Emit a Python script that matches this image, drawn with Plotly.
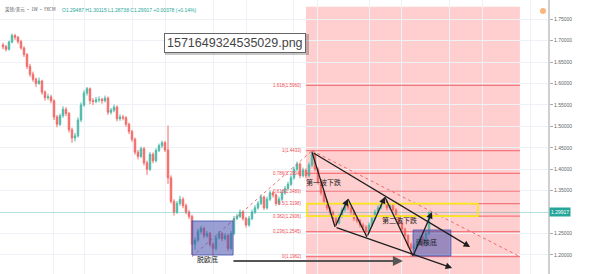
import plotly.graph_objects as go

# ---------------- data (weekly-ish GBP/USD candles) ----------------
opens = [1.690,1.686,1.680,1.697,1.712,1.708,1.698,1.683,1.668,1.640,1.622,1.610,1.600,1.606,1.580,1.567,1.569,1.560,1.522,1.505,
         1.525,1.540,1.530,1.492,1.473,1.478,1.515,1.550,1.578,1.588,1.560,1.558,1.562,1.563,1.560,1.566,1.533,1.538,1.545,1.518,
         1.522,1.520,1.505,1.488,1.470,1.440,1.430,1.448,1.415,1.400,1.435,1.420,1.444,1.455,1.462,1.445,1.380,1.325,1.300,1.320,
         1.330,1.315,1.300,1.290,1.225,1.235,1.255,1.262,1.245,1.250,1.225,1.215,1.240,1.250,1.238,1.245,1.215,1.250,1.285,1.290,
         1.300,1.285,1.270,1.285,1.300,1.310,1.320,1.335,1.310,1.330,1.345,1.340,1.320,1.330,1.345,1.355,1.365,1.380,1.400,1.412,
         1.385,1.398,1.385,1.410,1.435,1.400,1.370,1.345,1.325,1.310,1.300,1.285,1.275,1.290,1.305,1.318,1.310,1.300,1.285,1.280,
         1.270,1.265,1.255,1.270,1.285,1.300,1.310,1.320,1.325,1.310,1.315,1.305,1.290,1.275,1.260,1.245,1.225,1.215,1.220,1.230,
         1.240,1.225,1.250]
highs = [1.695,1.690,1.700,1.717,1.716,1.711,1.702,1.687,1.671,1.646,1.628,1.614,1.614,1.609,1.584,1.576,1.574,1.563,1.527,1.530,
         1.547,1.545,1.534,1.497,1.485,1.521,1.556,1.584,1.592,1.591,1.566,1.569,1.570,1.567,1.572,1.570,1.543,1.551,1.549,1.528,
         1.527,1.524,1.509,1.492,1.474,1.445,1.453,1.452,1.420,1.440,1.439,1.449,1.460,1.467,1.466,1.502,1.386,1.330,1.326,1.338,
         1.335,1.320,1.305,1.294,1.241,1.261,1.268,1.266,1.256,1.254,1.229,1.245,1.256,1.254,1.251,1.249,1.256,1.291,1.296,1.306,
         1.304,1.289,1.291,1.306,1.316,1.326,1.341,1.339,1.336,1.351,1.349,1.344,1.336,1.351,1.361,1.371,1.386,1.406,1.418,1.416,
         1.404,1.402,1.416,1.4433,1.439,1.404,1.374,1.349,1.329,1.314,1.304,1.289,1.296,1.311,1.325,1.322,1.314,1.304,1.290,1.284,
         1.275,1.269,1.276,1.291,1.306,1.316,1.326,1.334,1.329,1.321,1.319,1.309,1.294,1.279,1.264,1.249,1.229,1.226,1.236,1.246,
         1.244,1.256,1.3012]
lows = [1.680,1.675,1.677,1.694,1.702,1.693,1.679,1.662,1.634,1.616,1.604,1.592,1.597,1.574,1.560,1.562,1.554,1.515,1.498,1.501,
        1.520,1.524,1.486,1.462,1.465,1.474,1.510,1.546,1.572,1.552,1.550,1.554,1.556,1.553,1.556,1.527,1.528,1.533,1.512,1.513,
        1.514,1.499,1.482,1.464,1.434,1.423,1.426,1.409,1.387,1.396,1.414,1.416,1.440,1.449,1.440,1.366,1.320,1.292,1.296,1.315,
        1.309,1.295,1.284,1.200,1.212,1.230,1.249,1.239,1.240,1.219,1.198,1.210,1.236,1.232,1.234,1.209,1.211,1.246,1.281,1.286,
        1.280,1.264,1.266,1.281,1.296,1.306,1.316,1.305,1.306,1.326,1.334,1.315,1.316,1.326,1.341,1.351,1.361,1.376,1.396,1.379,
        1.381,1.379,1.381,1.405,1.395,1.364,1.339,1.319,1.304,1.294,1.279,1.266,1.271,1.286,1.301,1.304,1.294,1.279,1.274,1.264,
        1.258,1.245,1.251,1.266,1.281,1.296,1.306,1.316,1.304,1.306,1.299,1.284,1.269,1.254,1.239,1.219,1.1962,1.209,1.215,1.226,
        1.219,1.221,1.246]
closes = [1.686,1.680,1.697,1.712,1.708,1.698,1.683,1.668,1.640,1.622,1.610,1.600,1.606,1.580,1.567,1.569,1.560,1.522,1.505,1.525,
          1.540,1.530,1.492,1.473,1.478,1.515,1.550,1.578,1.588,1.560,1.558,1.562,1.563,1.560,1.566,1.533,1.538,1.545,1.518,1.522,
          1.520,1.505,1.488,1.470,1.440,1.430,1.448,1.415,1.400,1.435,1.420,1.444,1.455,1.462,1.445,1.380,1.325,1.300,1.320,1.330,
          1.315,1.300,1.290,1.225,1.235,1.255,1.262,1.245,1.250,1.225,1.215,1.240,1.250,1.238,1.245,1.215,1.250,1.285,1.290,1.300,
          1.285,1.270,1.285,1.300,1.310,1.320,1.335,1.310,1.330,1.345,1.340,1.320,1.330,1.345,1.355,1.365,1.380,1.400,1.412,1.385,
          1.398,1.385,1.410,1.435,1.400,1.370,1.345,1.325,1.310,1.300,1.285,1.275,1.290,1.305,1.318,1.310,1.300,1.285,1.280,1.270,
          1.265,1.255,1.270,1.285,1.300,1.310,1.320,1.325,1.310,1.315,1.305,1.290,1.275,1.260,1.245,1.225,1.215,1.220,1.230,1.240,
          1.225,1.250,1.2992]
bar_index = list(range(len(closes)))

price_ticks = [1.20, 1.25, 1.35, 1.40, 1.45, 1.50, 1.55, 1.60, 1.65, 1.70, 1.75]
last_price = 1.29917

fib_ratios = ["1.618", "1", "0.786", "0.618", "0.5", "0.382", "0.236", "0"]
fib_prices = [1.5960, 1.4433, 1.3904, 1.3489, 1.3198, 1.2906, 1.2545, 1.1962]

# drawing anchors (bar index, price)
swing_high = (103, 1.4400)
swing_low_2016 = (63, 1.1962)
zig_x = [103, 110.7, 115, 121.3, 127.3, 136.7, 143]
zig_y = [1.4400, 1.2653, 1.3306, 1.2419, 1.3353, 1.1976, 1.3003]
upper_end = (155.7, 1.2186)
lower_start = (110.7, 1.2653)
lower_end = (149.7, 1.1696)
future_end = 172.3
bottom_arrow = (76.3, 133.3, 1.1859)
box_brexit = (63, 76.7, 1.1999, 1.2793)
box_core = (136.7, 149.3, 1.1976, 1.2583)
grid_x = [16.7, 27.3, 43.3, 54.3, 70, 81, 96.7, 104.7, 122.3, 133, 149, 159.7, 175.7]

X_RANGE = [-1, 181.67]
Y_RANGE = [1.1556, 1.795]

fig = go.Figure()
fig.add_trace(go.Candlestick(
    x=bar_index, open=opens, high=highs, low=lows, close=closes,
    increasing=dict(line=dict(color="#4fb9a8", width=1), fillcolor="#4fb9a8"),
    decreasing=dict(line=dict(color="#f26b68", width=1), fillcolor="#f26b68"),
    whiskerwidth=0, showlegend=False, hoverinfo="skip"))

shapes = []
# pink future zone
shapes.append(dict(type="rect", xref="x", yref="y", x0=101, x1=future_end, y0=Y_RANGE[0] - 0.05, y1=1.779,
                   fillcolor="rgba(255,60,60,0.25)", line=dict(width=0), layer="below"))
# fib lines
for p in fib_prices:
    shapes.append(dict(type="line", xref="x", yref="y", x0=101, x1=future_end, y0=p, y1=p,
                       line=dict(color="rgba(240,70,80,0.65)", width=1.3), layer="above"))
# current price line
shapes.append(dict(type="line", xref="paper", yref="y", x0=0, x1=1, y0=last_price, y1=last_price,
                   line=dict(color="rgba(38,166,154,0.35)", width=1), layer="above"))
# red dotted trend lines
shapes.append(dict(type="line", xref="x", yref="y", x0=swing_low_2016[0], y0=swing_low_2016[1],
                   x1=swing_high[0], y1=fib_prices[1], line=dict(color="rgba(235,80,80,0.8)", width=1, dash="dot")))
shapes.append(dict(type="line", xref="x", yref="y", x0=swing_high[0], y0=fib_prices[1],
                   x1=future_end, y1=fib_prices[-1], line=dict(color="rgba(235,80,80,0.8)", width=1, dash="dot")))
# yellow zone
shapes.append(dict(type="rect", xref="x", yref="y", x0=101.3, x1=158.3, y0=fib_prices[5], y1=fib_prices[4],
                   line=dict(color="#f7ea1c", width=1.6), fillcolor="rgba(0,0,0,0)", layer="above"))
# purple boxes
for bx in (box_brexit, box_core):
    shapes.append(dict(type="rect", xref="x", yref="y", x0=bx[0], x1=bx[1], y0=bx[2], y1=bx[3],
                       fillcolor="rgba(70,80,175,0.55)", line=dict(color="rgba(70,80,175,0.8)", width=1), layer="above"))
# zigzag down legs (no heads)
for k in (0, 2, 4):
    shapes.append(dict(type="line", xref="x", yref="y", x0=zig_x[k], y0=zig_y[k], x1=zig_x[k + 1], y1=zig_y[k + 1],
                       line=dict(color="#1e1e1e", width=1.3)))
# orange icon
shapes.append(dict(type="circle", xref="paper", yref="paper", x0=(540 / 548), x1=(546 / 548),
                   y0=1 - 14 / 274, y1=1 - 8 / 274, fillcolor="rgba(247,163,92,0.8)", line=dict(width=0)))
# label shadow
shapes.append(dict(type="rect", xref="paper", yref="paper", x0=165 / 548, x1=309 / 548, y0=1 - 55 / 274,
                   y1=1 - 34 / 274, fillcolor="rgba(0,0,0,0.22)", line=dict(width=0), layer="above"))

annotations = []
# fib labels
for r, p in zip(fib_ratios, fib_prices):
    annotations.append(dict(xref="x", yref="y", x=100.3, y=p, text=f"{r}({p:.4f})", showarrow=False,
                            xanchor="right", yanchor="middle", font=dict(size=4.5, color="#ee4b55")))

def arrow(x0, y0, x1, y1, color="#1e1e1e", width=1.3):
    annotations.append(dict(xref="x", yref="y", axref="x", ayref="y", x=x1, y=y1, ax=x0, ay=y0, text="",
                            showarrow=True, arrowhead=2, arrowsize=1, arrowwidth=width, arrowcolor=color, standoff=0))

for k in (1, 3, 5):
    arrow(zig_x[k], zig_y[k], zig_x[k + 1], zig_y[k + 1])
arrow(swing_high[0], zig_y[0], upper_end[0], upper_end[1])
arrow(lower_start[0], lower_start[1], lower_end[0], lower_end[1])
arrow(bottom_arrow[0], bottom_arrow[2], bottom_arrow[1], bottom_arrow[2], color="#555", width=2)

cjk = "Noto Sans CJK SC"
annotations += [
    dict(xref="x", yref="y", x=107, y=1.370, text="第一波下跌", showarrow=False, font=dict(size=7, color="#222", family=cjk)),
    dict(xref="x", yref="y", x=132.3, y=1.2816, text="第二波下跌", showarrow=False, font=dict(size=7, color="#222", family=cjk)),
    dict(xref="x", yref="y", x=141.3, y=1.2303, text="清核底", showarrow=False, font=dict(size=7, color="#222", family=cjk)),
    dict(xref="x", yref="y", x=68, y=1.1906, text="脱欧底", showarrow=False, font=dict(size=7, color="#222", family=cjk)),
    dict(xref="paper", yref="paper", x=235 / 548, y=1 - 42.5 / 274, xanchor="center", yanchor="middle",
         text="1571649324535029.png", showarrow=False,
         font=dict(size=12.5, color="#444", family="Liberation Sans"), bgcolor="white", bordercolor="#666",
         borderwidth=1, borderpad=2),
    dict(xref="paper", yref="paper", x=3 / 548, y=1 - 10 / 274, xanchor="left", yanchor="middle",
         text="英镑/美元 · 1W · FXCM", showarrow=False, font=dict(size=4.5, color="#555", family=cjk)),
    dict(xref="paper", yref="paper", x=60 / 548, y=1 - 10 / 274, xanchor="left", yanchor="middle",
         text="O1.29487 H1.30115 L1.28738 C1.29917 +0.00378 (+0.14%)", showarrow=False,
         font=dict(size=5, color="#26a69a")),
    dict(xref="paper", yref="y", x=1.002, y=last_price, xanchor="left", yanchor="middle", text=f"{last_price:.5f}",
         showarrow=False, font=dict(size=5, color="white"), bgcolor="#26a69a", borderpad=1),
]

fig.update_layout(
    width=596, height=274, margin=dict(l=0, r=48, t=0, b=0),
    paper_bgcolor="white", plot_bgcolor="white",
    shapes=shapes, annotations=annotations,
    font=dict(family="Liberation Sans, Noto Sans CJK SC"),
    xaxis=dict(range=X_RANGE, rangeslider=dict(visible=False), showticklabels=False, tickvals=grid_x,
               showgrid=True, gridcolor="#eef2f6", zeroline=False, showline=False, fixedrange=True),
    yaxis=dict(range=Y_RANGE, side="right", tickvals=price_ticks, ticktext=[f"{t:.5f}" for t in price_ticks],
               tickfont=dict(size=5, color="#666"), ticks="outside", ticklen=3, tickcolor="#aaa",
               showgrid=True, gridcolor="#eef2f6", zeroline=False, showline=True, linecolor="#cfcfcf", linewidth=2),
)
fig.write_html("out.html")
